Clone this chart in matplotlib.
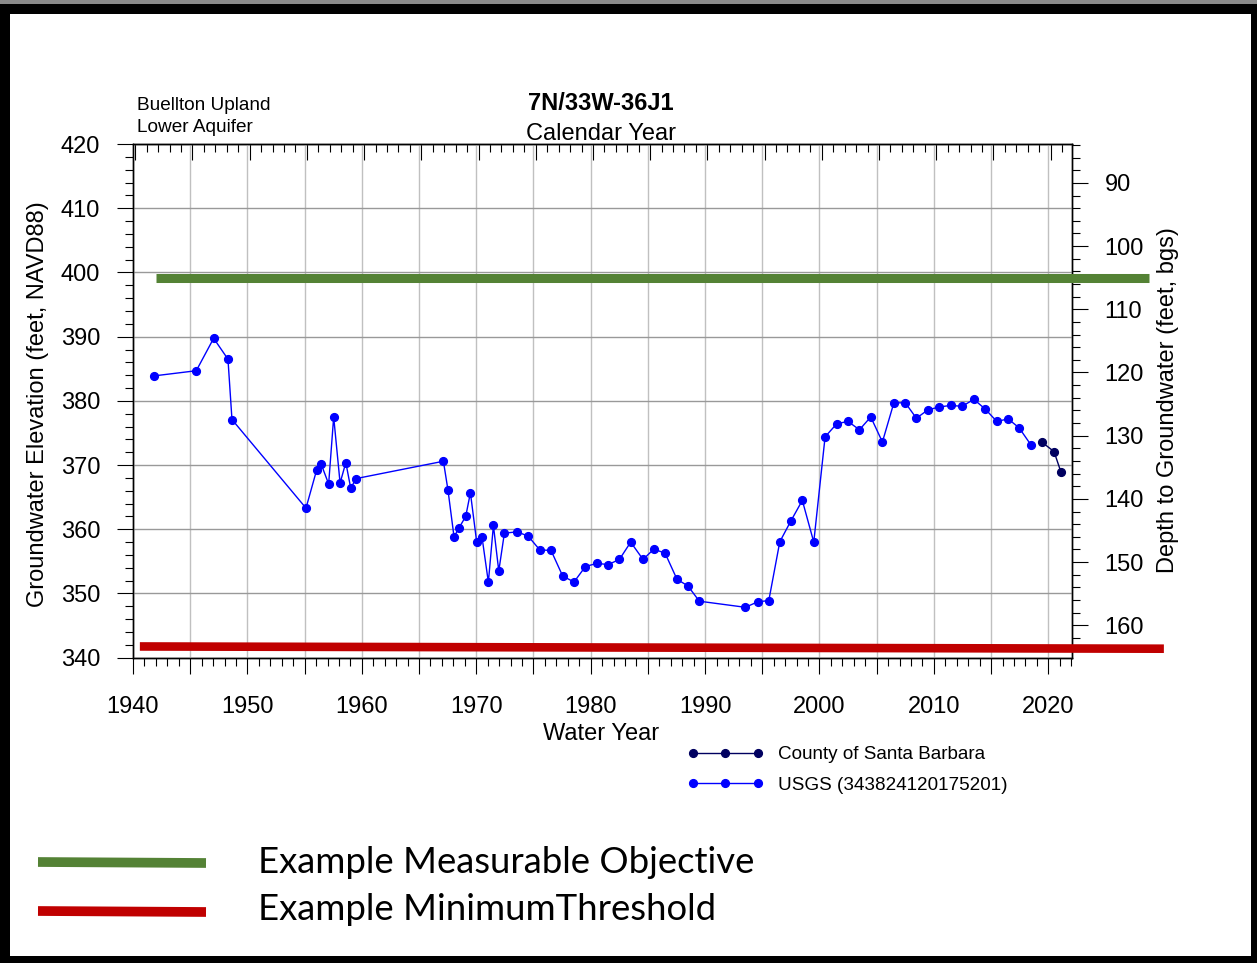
import matplotlib
matplotlib.use('Agg')
import matplotlib.pyplot as plt
from matplotlib.ticker import MultipleLocator, FuncFormatter
from matplotlib.patches import Rectangle
from matplotlib.lines import Line2D
from matplotlib.legend_handler import HandlerLine2D

W, H = 1257, 963
plt.rcParams['font.family'] = ['Liberation Sans', 'DejaVu Sans']

# groundwater elevation (ft NAVD88) by water year
usgs_year = [1941.86, 1945.53, 1947.05, 1948.3, 1948.65, 1955.12, 1956.06, 1956.46, 1957.1, 1957.54,
             1958.1, 1958.6, 1959.03, 1959.5, 1967.13, 1967.53, 1968.06, 1968.5, 1969.08, 1969.49,
             1970.04, 1970.5, 1971.06, 1971.5, 1971.97, 1972.46, 1973.57, 1974.53, 1975.55, 1976.54,
             1977.56, 1978.55, 1979.54, 1980.56, 1981.52, 1982.51, 1983.5, 1984.58, 1985.51, 1986.5,
             1987.55, 1988.49, 1989.5, 1993.52, 1994.6, 1995.57, 1996.53, 1997.5, 1998.5, 1999.5,
             2000.49, 2001.51, 2002.5, 2003.49, 2004.48, 2005.5, 2006.5, 2007.5, 2008.47, 2009.47,
             2010.46, 2011.48, 2012.47, 2013.49, 2014.5, 2015.5, 2016.49, 2017.45, 2018.5]
usgs_elev = [383.9, 384.7, 389.75, 386.5, 377.1, 363.3, 369.3, 370.1, 367.05, 377.5,
             367.2, 370.4, 366.4, 367.9, 370.6, 366.1, 358.8, 360.25, 362.0, 365.7,
             358.0, 358.85, 351.75, 360.6, 353.5, 359.4, 359.6, 358.95, 356.8, 356.7,
             352.7, 351.8, 354.2, 354.7, 354.5, 355.3, 358.0, 355.3, 356.9, 356.3,
             352.2, 351.2, 348.8, 347.85, 348.7, 348.9, 358.05, 361.3, 364.5, 358.0,
             374.4, 376.45, 376.8, 375.5, 377.5, 373.6, 379.7, 379.7, 377.3, 378.6,
             379.05, 379.3, 379.15, 380.25, 378.7, 376.8, 377.2, 375.8, 373.1]

county_year = [2019.46, 2020.5, 2021.09]
county_elev = [373.55, 372.1, 369.0]

objective_year = [1942.0, 2028.8]
objective_elev = [399.1, 399.1]
threshold_year = [1940.6, 2030.1]
threshold_elev = [341.75, 341.4]

GREEN = '#548235'
RED = '#c00000'


def fx(x):
    return x / W


def fy(y):
    return 1 - y / H


fig = plt.figure(figsize=(W / 100, H / 100), dpi=100, facecolor='black')
fig.add_artist(Rectangle((0, fy(4)), 1, 4 / H, transform=fig.transFigure,
                         facecolor='#8a8a8a', edgecolor='none', zorder=-10))
fig.add_artist(Rectangle((fx(9.5), fy(956)), (1251 - 9.5) / W, (956 - 14) / H,
                         transform=fig.transFigure, facecolor='white', edgecolor='none', zorder=-10))

ax = fig.add_axes([fx(133), fy(657.7), (1072 - 133) / W, (657.7 - 144.1) / H])
ax2 = ax.twinx()
ax.set_zorder(ax2.get_zorder() + 1)
ax.patch.set_visible(False)

county, = ax.plot(county_year, county_elev, '-o', color='#000060', lw=1.0, ms=5.6,
                  label='County of Santa Barbara', zorder=3)
usgs, = ax.plot(usgs_year, usgs_elev, '-o', color='#0000ff', lw=1.0, ms=5.6,
                label='USGS (343824120175201)', zorder=3)
ax.plot(objective_year, objective_elev, color=GREEN, lw=6.5, clip_on=False,
        solid_capstyle='butt', zorder=5)
ax.plot(threshold_year, threshold_elev, color=RED, lw=6.2, clip_on=False,
        solid_capstyle='butt', zorder=5)

ax.set_xlim(1940, 2022.07)
ax.set_ylim(340, 420)
ax.xaxis.set_major_locator(MultipleLocator(5))
ax.xaxis.set_minor_locator(MultipleLocator(1))
ax.xaxis.set_major_formatter(FuncFormatter(lambda v, p: f'{v:.0f}' if round(v) % 10 == 0 else ''))
ax.yaxis.set_major_locator(MultipleLocator(10))
ax.yaxis.set_minor_locator(MultipleLocator(2))
ax.tick_params(which='major', direction='out', length=11.5, width=0.8, labelsize=17)
ax.tick_params(which='minor', direction='out', length=5.5, width=0.8)
ax.tick_params(axis='x', which='major', pad=16)
ax.tick_params(axis='y', which='major', pad=12)
ax.grid(True, which='major', axis='y', color='#999999', lw=1.0)
ax.grid(True, which='major', axis='x', color='#c0c0c0', lw=1.0)
ax.set_axisbelow(True)

top = ax.secondary_xaxis('top', functions=(lambda x: x - 0.2, lambda x: x + 0.2))
top.xaxis.set_major_locator(MultipleLocator(5))
top.xaxis.set_minor_locator(MultipleLocator(1))
top.tick_params(which='major', direction='in', length=11.5, width=0.8, labeltop=False)
top.tick_params(which='minor', direction='in', length=5.5, width=0.8)

ax2.set_ylim(165.13, 83.86)
ax2.yaxis.set_major_locator(MultipleLocator(10))
ax2.yaxis.set_minor_locator(MultipleLocator(2))
ax2.tick_params(which='major', direction='out', length=11.5, width=0.8, labelsize=17, pad=12)
ax2.tick_params(which='minor', direction='out', length=5.5, width=0.8)

for a in (ax, ax2):
    for s in a.spines.values():
        s.set_linewidth(1.0)

fig.text(fx(137), fy(110), 'Buellton Upland', fontsize=13.7, ha='left', va='baseline')
fig.text(fx(137), fy(132), 'Lower Aquifer', fontsize=13.7, ha='left', va='baseline')
fig.text(fx(601), fy(110), '7N/33W-36J1', fontsize=17, fontweight='bold', ha='center', va='baseline')
fig.text(fx(601), fy(140), 'Calendar Year', fontsize=17, ha='center', va='baseline')
fig.text(fx(601), fy(740), 'Water Year', fontsize=17, ha='center', va='baseline')
fig.text(fx(38), fy(404), 'Groundwater Elevation (feet, NAVD88)', fontsize=17,
         rotation=90, ha='center', va='center')
fig.text(fx(1168), fy(400), 'Depth to Groundwater (feet, bgs)', fontsize=17,
         rotation=90, ha='center', va='center')

ax.legend(handles=[county, usgs], loc='upper left', bbox_to_anchor=(fx(693), fy(746)),
          bbox_transform=fig.transFigure, frameon=False, numpoints=3, fontsize=13.6,
          handler_map={county: HandlerLine2D(marker_pad=0), usgs: HandlerLine2D(marker_pad=0)},
          handlelength=3.44, handletextpad=1.06, borderpad=0, borderaxespad=0, labelspacing=0.72)

fig.add_artist(Line2D([fx(38), fx(206)], [fy(862), fy(863)], color=GREEN, lw=7,
                      transform=fig.transFigure, solid_capstyle='butt'))
fig.add_artist(Line2D([fx(38), fx(206)], [fy(911), fy(912)], color=RED, lw=7,
                      transform=fig.transFigure, solid_capstyle='butt'))
fig.text(fx(258), fy(873), 'Example Measurable Objective', fontsize=26.3, family=['Lato', 'DejaVu Sans'],
         ha='left', va='baseline')
fig.text(fx(258), fy(920), 'Example MinimumThreshold', fontsize=26.3, family=['Lato', 'DejaVu Sans'],
         ha='left', va='baseline')

fig.savefig('out.png', dpi=100, facecolor=fig.get_facecolor())
